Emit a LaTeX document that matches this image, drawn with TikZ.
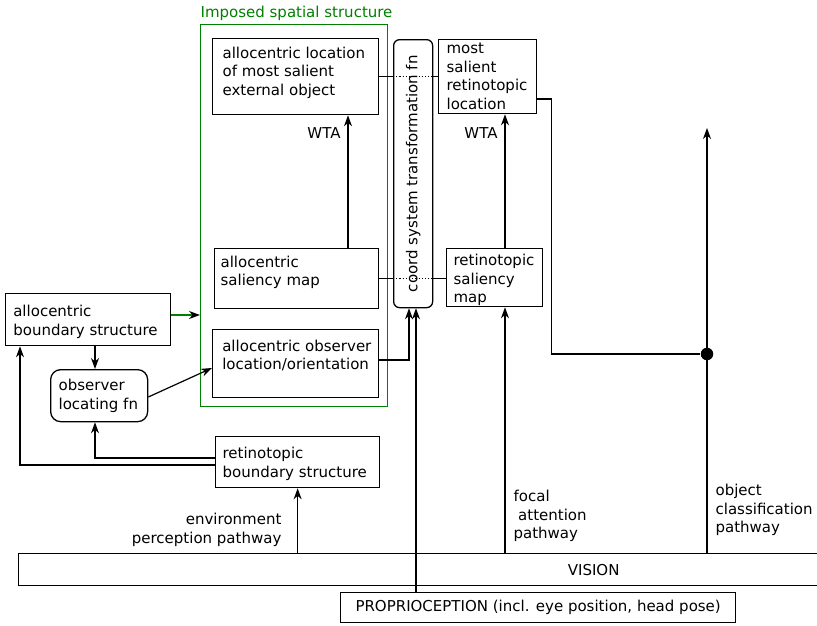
\documentclass[tikz,border=0pt]{standalone}
\usepackage{fontspec}
\setmainfont{DejaVu Sans}
\usetikzlibrary{arrows.meta,calc}
\definecolor{frame}{RGB}{0,128,0}
\begin{document}
\begin{tikzpicture}[x=1pt,y=-1pt,
  font=\fontsize{15}{18.5}\selectfont,
  line width=1.2pt,
  >={Stealth[length=11pt,width=8pt,inset=3.5pt]},
  box/.style={draw, line width=1.3pt, inner sep=0pt, anchor=north west},
  rbox/.style={box, rounded corners=10pt},
  txt/.style={inner sep=0pt, anchor=north west, align=left},
  lbl/.style={inner sep=0pt},
  dot/.style={circle, fill, inner sep=0pt, minimum size=12.5pt},
]
\useasboundingbox (0,0) rectangle (817,625);

% imposed spatial structure frame
\node[box, draw=frame, line width=1.1pt, minimum width=187, minimum height=382] (S) at (200,24) {};
\node[lbl, anchor=base west, text=frame] (title) at (200,17) {Imposed spatial structure};

% boxes
\node[box, minimum width=166, minimum height=76] (A) at (212,38) {};
\node[txt] (A-t) at (222,44.55) {\strut allocentric location\\of most salient\\external object};

\node[box, rounded corners=6pt, minimum width=39, minimum height=268] (K) at (393,39) {};
\node[lbl, rotate=90] (K-t) at (K.center) {coord system transformation fn};

\node[box, minimum width=98, minimum height=74] (D) at (438,39) {};
\node[txt] (D-t) at (446,40.35) {\strut most\\salient\\retinotopic\\location};

\node[box, minimum width=164, minimum height=60] (B) at (214,248) {};
\node[txt] (B-t) at (220,253.75) {\strut allocentric\\saliency map};

\node[box, minimum width=166, minimum height=68] (C) at (212,329) {};
\node[txt] (C-t) at (221.7,337.75) {\strut allocentric observer\\location/orientation};

\node[box, minimum width=96, minimum height=58] (E) at (446,248) {};
\node[txt] (E-t) at (453,252) {\strut retinotopic\\saliency\\map};

\node[box, minimum width=165, minimum height=52] (F) at (5,293) {};
\node[txt] (F-t) at (12.7,303) {\strut allocentric\\boundary structure};

\node[rbox, minimum width=97, minimum height=52] (obs) at (50,369) {};
\node[txt] (obs-t) at (58,377) {\strut observer\\locating fn};

\node[box, minimum width=164, minimum height=51] (G) at (215,436) {};
\node[txt] (G-t) at (222,445) {\strut retinotopic\\boundary structure};

\node[box, minimum width=1150, minimum height=32] (V) at (18,553) {VISION};
\node[box, minimum width=395, minimum height=30] (P) at (340,592) {PROPRIOCEPTION (incl. eye position, head pose)};

\node[dot] (J) at (707,354) {};
\coordinate (oc) at (707,128);

% winner-take-all steps
\draw[->] (B.north -| 348,0) -- (A.south -| 348,0);
\node[lbl] (wta1) at (324,133) {WTA};
\draw[->] (E.north -| 505,0) -- (D.south -| 505,0);
\node[lbl] (wta2) at (481,133) {WTA};

% links through the coordinate transformation
\draw (A.east) -- (A.east -| K.west);
\draw[dotted] (A.east -| K.west) -- (A.east -| K.east);
\draw (A.east -| K.east) -- (A.east -| D.west);
\draw (B.east) -- (B.east -| K.west);
\draw[dotted] (B.east -| K.west) -- (B.east -| K.east);
\draw (B.east -| K.east) -- (B.east -| E.west);

% pathways from vision
\draw[->] (V.north -| G.south) -- (G.south);
\draw[->] (V.north -| 505,0) -- (E.south -| 505,0);
\draw[->] (V.north -| J) -- (oc);
\draw (D.east |- 0,99) -- ++(14,0) |- (J);
\draw[->] (P.north -| 416,0) -- (K.south -| 416,0);
\draw[->] (C.east |- 0,360) -| (K.south -| 409,0);

\node[lbl, anchor=east, align=right] (env-l) at (282,530) {environment\\perception pathway};
\node[lbl, anchor=west, align=left] (foc-l) at (513,516) {focal\\\hspace*{4.6pt}attention\\pathway};
\node[lbl, anchor=west, align=left] (obj-l) at (715,510) {object\\classification\\pathway};

% observer localisation
\draw[frame, -{Stealth[length=11pt,width=8pt,inset=3.5pt,color=black]}] (F.east |- 0,315) -- (S.west |- 0,315);
\draw[->] (F.south -| 95,0) -- (obs.north -| 95,0);
\draw[->] (obs.east |- 0,397) -- (C.west |- 0,368);
\draw[->] (G.west |- 0,458) -| (obs.south -| 95,0);
\draw[->] (G.west |- 0,465) -| (F.south -| 20,0);
\end{tikzpicture}
\end{document}
